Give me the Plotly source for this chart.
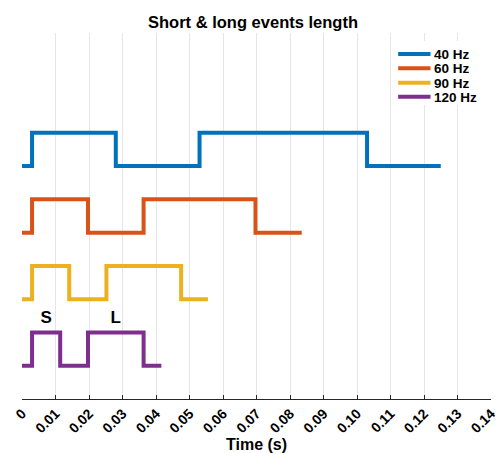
import plotly.graph_objects as go

# Data: event transition times (s) and on/off states
series_names = ["40 Hz", "60 Hz", "90 Hz", "120 Hz"]
t_40 = [0.0, 0.003, 0.028, 0.053, 0.103, 0.125]
t_60 = [0.0, 0.003, 0.0197, 0.0363, 0.0697, 0.0835]
t_90 = [0.0, 0.003, 0.0141, 0.0252, 0.0475, 0.0555]
t_120 = [0.0, 0.003, 0.0114, 0.0197, 0.0363, 0.0416]
states = [0, 1, 0, 1, 0, 0]

label_text = ["S", "L"]
label_x = [0.0072, 0.028]

tick_vals = [0, 0.01, 0.02, 0.03, 0.04, 0.05, 0.06, 0.07, 0.08, 0.09, 0.10, 0.11, 0.12, 0.13, 0.14]
tick_text = ["0", "0.01", "0.02", "0.03", "0.04", "0.05", "0.06", "0.07", "0.08", "0.09",
             "0.10", "0.11", "0.12", "0.13", "0.14"]

colors = ["#0072BD", "#D95319", "#EDB120", "#7E2F8E"]
offsets = [4, 3, 2, 1]
amp = 0.5
FONT = "Liberation Sans"
W, H = 502, 453
ML, MR, MT, MB = 21.5, 10.7, 33, 54
PW, PH = W - ML - MR, H - MT - MB


def px_x(p):
    return (p - ML) / PW


def px_y(p):
    return (H - MB - p) / PH


fig = go.Figure()
for name, t, c, off in zip(series_names, [t_40, t_60, t_90, t_120], colors, offsets):
    fig.add_trace(go.Scatter(
        x=t, y=[off + amp * s for s in states], mode="lines", name=name,
        line=dict(color=c, width=4, shape="hv"), showlegend=False,
    ))

fig.add_trace(go.Scatter(
    x=label_x, y=[offsets[3] + 0.71] * len(label_x), mode="text", text=label_text,
    textfont=dict(family=FONT, size=17, color="black", weight="bold"),
    showlegend=False, hoverinfo="skip",
))

# Legend (drawn to match compact row spacing)
shapes = [dict(type="rect", xref="paper", yref="paper", layer="above",
               x0=px_x(393), x1=px_x(480), y0=px_y(105), y1=px_y(41),
               fillcolor="white", line=dict(width=0))]
annotations = []
row_y = [54, 68.3, 82.7, 96.8]
for name, c, ry in zip(series_names, colors, row_y):
    shapes.append(dict(type="line", xref="paper", yref="paper", layer="above",
                       x0=px_x(398.3), x1=px_x(430.7), y0=px_y(ry), y1=px_y(ry),
                       line=dict(color=c, width=4)))
    annotations.append(dict(text=name, xref="paper", yref="paper", x=px_x(433.5), y=px_y(ry),
                            xanchor="left", yanchor="middle", showarrow=False, height=14,
                            borderpad=0,
                            font=dict(family=FONT, size=13.5, color="black", weight="bold")))

annotations.append(dict(text="Time (s)", xref="paper", yref="paper", x=px_x(256.5), y=px_y(444),
                        xanchor="center", yanchor="middle", showarrow=False,
                        font=dict(family=FONT, size=16, color="black", weight="bold")))

fig.update_layout(
    width=W, height=H,
    margin=dict(l=ML, r=MR, t=MT, b=MB, autoexpand=False),
    paper_bgcolor="white", plot_bgcolor="white",
    title=dict(text="Short & long events length", x=253 / W, xanchor="center",
               y=1 - 22 / H, yanchor="middle",
               font=dict(family=FONT, size=16.5, color="black", weight="bold")),
    showlegend=False,
    shapes=shapes,
    annotations=annotations,
    xaxis=dict(range=[0, 0.14], tickvals=tick_vals, ticktext=tick_text, tickangle=-45,
               automargin=False,
               showgrid=True, gridcolor="#e6e6e6", gridwidth=1,
               ticks="inside", ticklen=4, tickcolor="#262626", showline=True, linecolor="#262626",
               linewidth=1, zeroline=False,
               tickfont=dict(family=FONT, size=14, color="black", weight="bold")),
    yaxis=dict(range=[0.5, 6], visible=False, showgrid=False, zeroline=False, automargin=False),
)

fig.write_html("out.html", config={"displayModeBar": False},
               post_script="document.body.style.margin='0';document.body.style.overflow='hidden';")
